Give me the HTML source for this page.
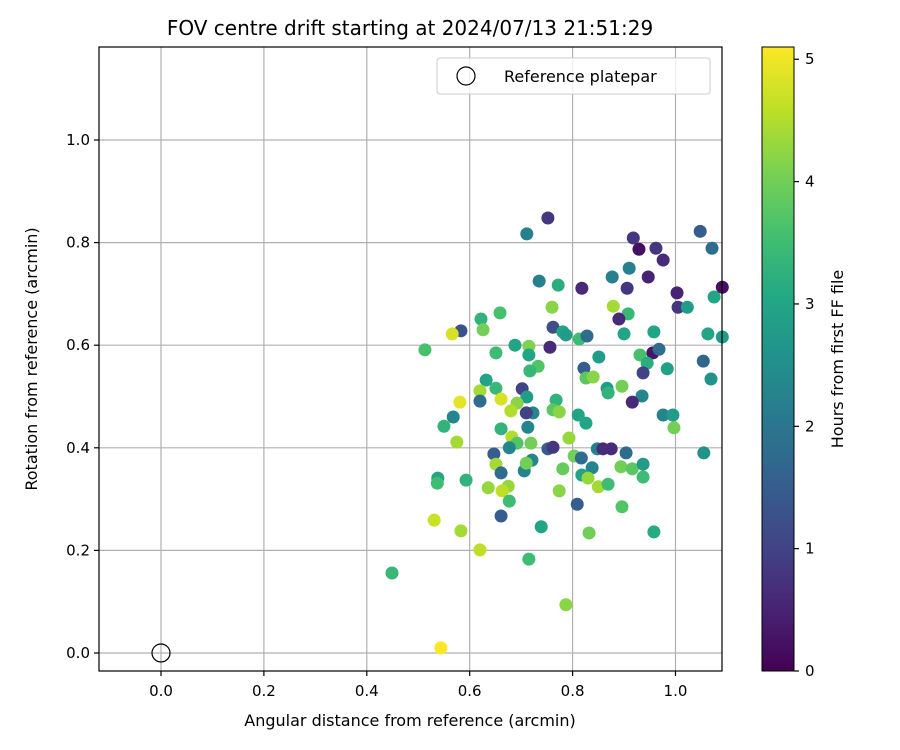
<!DOCTYPE html>
<html><head><meta charset="utf-8"><style>
html,body{margin:0;padding:0;background:#fff}
svg{display:block;font-family:"DejaVu Sans","Liberation Sans",sans-serif}
</style></head><body>
<svg id="chart" width="900" height="750" viewBox="0 0 900 750" xmlns="http://www.w3.org/2000/svg">
<defs>
<linearGradient id="viridis" x1="0" y1="1" x2="0" y2="0">
<stop offset="0" stop-color="#440154"/><stop offset="0.1" stop-color="#482475"/><stop offset="0.2" stop-color="#414487"/><stop offset="0.3" stop-color="#355f8d"/><stop offset="0.4" stop-color="#2a788e"/><stop offset="0.5" stop-color="#21918c"/><stop offset="0.6" stop-color="#22a884"/><stop offset="0.7" stop-color="#44bf70"/><stop offset="0.8" stop-color="#7ad151"/><stop offset="0.9" stop-color="#bddf26"/><stop offset="1" stop-color="#fde725"/>
</linearGradient>
</defs>
<g id="grid"></g>
<g id="points"></g>
<rect x="99" y="47" width="623" height="624" fill="none" stroke="#000" stroke-width="1.2"/>
<g id="xticks"></g>
<g id="yticks"></g>
<text x="410" y="35" font-size="20" text-anchor="middle">FOV centre drift starting at 2024/07/13 21:51:29</text>
<text x="410" y="726" font-size="16" text-anchor="middle">Angular distance from reference (arcmin)</text>
<text transform="translate(37,359) rotate(-90)" font-size="16" text-anchor="middle">Rotation from reference (arcmin)</text>
<g>
<rect x="437" y="58" width="273" height="36" rx="3" fill="#fff" fill-opacity="0.8" stroke="#ccc"/>
<circle cx="466" cy="76" r="9" fill="none" stroke="#000" stroke-width="1.2"/>
<text x="504" y="82" font-size="16">Reference platepar</text>
</g>
<rect x="762" y="47" width="32" height="624" fill="url(#viridis)" stroke="#000" stroke-width="1"/>
<g id="cticks"></g>
<text transform="translate(843,359) rotate(-90)" font-size="16" text-anchor="middle">Hours from first FF file</text>
</svg>
<script>
const xTicks=[0.0,0.2,0.4,0.6,0.8,1.0];
const yTicks=[0.0,0.2,0.4,0.6,0.8,1.0];
const cTicks=[0,1,2,3,4,5];
const xs=[0.752,0.711,0.918,0.929,0.962,0.976,1.048,1.071,0.910,0.877,0.947,0.735,0.772,0.818,0.906,1.003,1.091,1.075,0.760,0.879,1.005,1.023,0.659,0.622,0.908,0.890,0.583,0.566,0.626,0.762,0.781,0.787,0.813,0.828,0.900,0.958,1.063,0.513,0.688,0.715,0.756,0.651,0.715,0.851,0.931,0.956,0.968,0.945,0.984,0.937,1.054,1.069,0.733,0.717,0.822,0.826,0.840,0.632,0.651,0.620,0.620,0.702,0.711,0.768,0.867,0.869,0.896,0.935,0.916,0.581,0.661,0.692,0.680,0.762,0.774,0.811,0.723,0.710,0.568,0.976,0.995,0.550,0.713,0.661,0.826,0.997,0.575,0.682,0.692,0.719,0.793,0.647,0.677,0.752,0.762,0.803,0.817,0.848,0.859,0.875,0.904,0.651,0.661,0.706,0.721,0.710,0.781,0.838,0.818,0.830,0.850,0.869,0.894,0.916,0.937,0.937,0.538,0.537,0.593,0.636,0.675,0.663,0.677,0.774,0.809,0.896,0.661,0.531,0.583,0.739,0.832,0.958,1.055,0.620,0.715,0.787,0.544,0.449,1.091];
const ys=[0.848,0.817,0.809,0.787,0.789,0.766,0.822,0.789,0.750,0.733,0.733,0.725,0.717,0.711,0.711,0.702,0.713,0.694,0.674,0.676,0.674,0.674,0.663,0.651,0.661,0.651,0.628,0.622,0.630,0.635,0.626,0.620,0.612,0.618,0.622,0.626,0.622,0.591,0.600,0.598,0.596,0.585,0.581,0.577,0.581,0.585,0.592,0.565,0.554,0.546,0.569,0.534,0.559,0.550,0.555,0.536,0.538,0.532,0.516,0.511,0.491,0.515,0.499,0.493,0.516,0.507,0.520,0.501,0.489,0.489,0.495,0.487,0.472,0.474,0.470,0.464,0.468,0.468,0.460,0.464,0.464,0.442,0.440,0.437,0.448,0.439,0.411,0.421,0.409,0.409,0.419,0.388,0.400,0.398,0.401,0.384,0.380,0.398,0.398,0.398,0.390,0.368,0.351,0.355,0.376,0.370,0.359,0.361,0.347,0.341,0.324,0.329,0.363,0.359,0.368,0.343,0.341,0.331,0.337,0.322,0.325,0.316,0.296,0.316,0.290,0.285,0.267,0.259,0.238,0.246,0.234,0.236,0.390,0.201,0.183,0.094,0.010,0.156,0.616];
const hours=[0.8,2.2,0.8,0.2,0.8,0.6,1.5,1.8,2.2,2.2,0.5,2.2,3.2,0.6,0.8,0.5,0.2,3.0,4.2,4.4,0.8,2.8,3.6,3.3,3.4,0.6,1.3,4.8,4.0,1.2,3.0,2.8,3.5,1.8,3.0,3.0,3.0,3.6,3.0,4.1,0.6,3.5,3.0,2.8,3.6,0.3,1.8,3.2,2.9,1.0,1.7,2.6,3.7,3.4,1.5,3.8,4.2,3.0,3.4,4.4,1.8,1.0,2.8,3.3,2.8,3.3,4.0,2.3,0.6,4.9,4.8,4.2,4.5,3.8,4.2,3.0,2.3,1.0,2.3,2.3,2.8,3.3,2.3,3.3,3.0,4.0,4.4,4.5,3.7,4.0,4.3,1.5,2.3,1.5,0.8,4.0,1.8,2.2,0.6,0.6,1.8,4.4,1.8,2.3,2.3,4.0,3.9,2.3,3.0,4.3,4.4,3.5,4.0,3.8,2.8,3.5,3.0,3.5,3.3,4.3,4.3,4.6,3.5,4.2,1.5,3.7,1.5,4.7,4.4,3.0,4.0,3.1,2.6,4.6,3.5,4.2,5.1,3.4,2.8];
const refX=[0.0], refY=[0.0];

const NS="http://www.w3.org/2000/svg";
const PL=99,PR=722,PT=47,PB=671;
const xMin=-0.1205,xMax=1.0904,yMin=-0.0351,yMax=1.1813;
const sx=v=>PL+(v-xMin)/(xMax-xMin)*(PR-PL);
const sy=v=>PB-(v-yMin)/(yMax-yMin)*(PB-PT);
const cMax=5.1, sc=v=>671-v/cMax*624;
const vir=["#440154","#482475","#414487","#355f8d","#2a788e","#21918c","#22a884","#44bf70","#7ad151","#bddf26","#fde725"];
function hx(c){return [parseInt(c.slice(1,3),16),parseInt(c.slice(3,5),16),parseInt(c.slice(5,7),16)];}
function cmap(t){t=Math.max(0,Math.min(1,t));const p=t*10,i=Math.min(9,Math.floor(p)),f=p-i;const a=hx(vir[i]),b=hx(vir[i+1]);return "rgb("+a.map((v,k)=>Math.round(v+(b[k]-v)*f)).join(",")+")";}
function mk(tag,attrs,parent){const e=document.createElementNS(NS,tag);for(const k in attrs)e.setAttribute(k,attrs[k]);parent.appendChild(e);return e;}
const grid=document.getElementById('grid'),xt=document.getElementById('xticks'),yt=document.getElementById('yticks'),ct=document.getElementById('cticks'),pts=document.getElementById('points');
xTicks.forEach(v=>{const x=sx(v);
 const g=mk('line',{x1:x,x2:x,y1:PT,y2:PB,stroke:'#b0b0b0','stroke-width':1.2},grid);
 
 
 const t=mk('line',{x1:x,x2:x,y1:PB,y2:PB+5,stroke:'#000','stroke-width':1.2},xt);
 
 
 const l=mk('text',{x:x,y:PB+25,'font-size':15,'text-anchor':'middle'},xt);l.textContent=v.toFixed(1);
 
 });
yTicks.forEach(v=>{const y=sy(v);
 const g=mk('line',{x1:PL,x2:PR,y1:y,y2:y,stroke:'#b0b0b0','stroke-width':1.2},grid);
 
 
 const t=mk('line',{x1:PL-5,x2:PL,y1:y,y2:y,stroke:'#000','stroke-width':1.2},yt);
 
 
 const l=mk('text',{x:PL-9,y:y+5,'font-size':15,'text-anchor':'end'},yt);l.textContent=v.toFixed(1);
 
 });
cTicks.forEach(v=>{const y=sc(v);
 const t=mk('line',{x1:794,x2:799,y1:y,y2:y,stroke:'#000','stroke-width':1.2},ct);
 
 
 const l=mk('text',{x:805,y:y+5,'font-size':15},ct);l.textContent=String(v);
 
 });
xs.forEach((v,i)=>{const c=mk('circle',{cx:sx(v),cy:sy(ys[i]),r:6.5,fill:cmap(hours[i]/cMax)},pts);
 
 });
refX.forEach((v,i)=>{const c=mk('circle',{cx:sx(v),cy:sy(refY[i]),r:9,fill:'none',stroke:'#000','stroke-width':1.2},pts);
 
 });
</script>
</body></html>
